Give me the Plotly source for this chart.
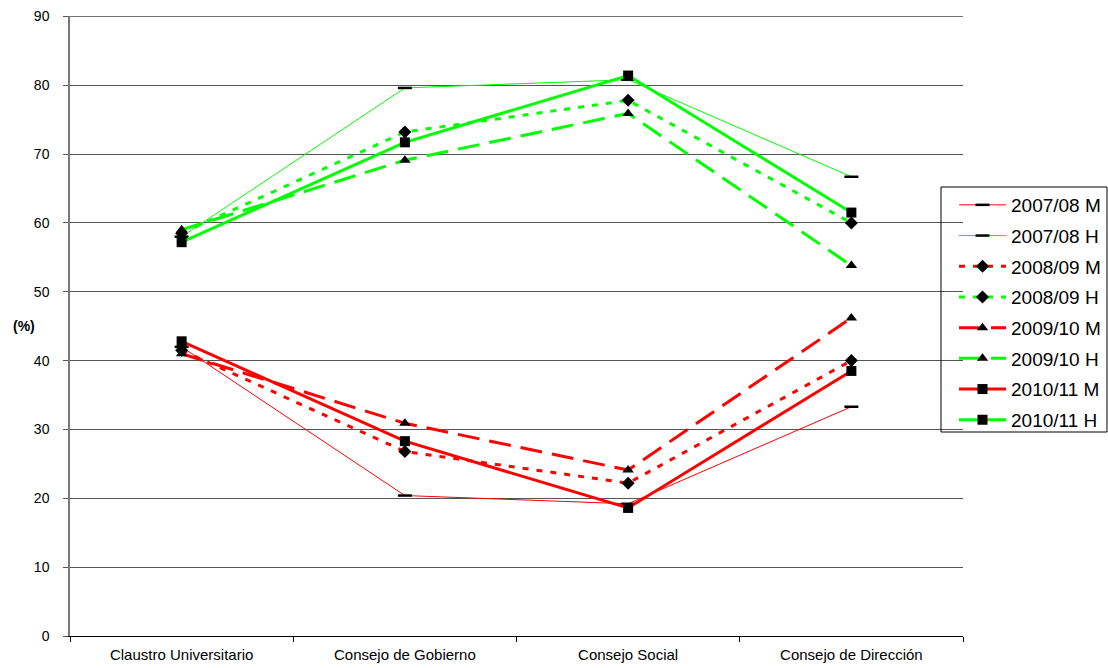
import plotly.graph_objects as go

categories = ["Claustro Universitario", "Consejo de Gobierno", "Consejo Social", "Consejo de Dirección"]

m_2007 = [42.0, 20.4, 19.2, 33.3]
h_2007 = [58.0, 79.6, 80.8, 66.7]
m_2008 = [41.5, 26.8, 22.2, 40.0]
h_2008 = [58.5, 73.2, 77.8, 60.0]
m_2009 = [41.0, 30.9, 24.1, 46.2]
h_2009 = [59.0, 69.1, 75.9, 53.8]
m_2010 = [42.8, 28.3, 18.6, 38.5]
h_2010 = [57.2, 71.7, 81.4, 61.5]

y_ticks = [0, 10, 20, 30, 40, 50, 60, 70, 80, 90]

series = [
    ("2007/08 M", m_2007, "#FF0000", 1, "solid", "line-ew"),
    ("2007/08 H", h_2007, "#00FF00", 1, "solid", "line-ew"),
    ("2008/09 M", m_2008, "#FF0000", 3, "6px,8px", "diamond"),
    ("2008/09 H", h_2008, "#00FF00", 3, "6px,8px", "diamond"),
    ("2009/10 M", m_2009, "#FF0000", 3, "22px,10px", "triangle-up"),
    ("2009/10 H", h_2009, "#00FF00", 3, "22px,10px", "triangle-up"),
    ("2010/11 M", m_2010, "#FF0000", 3, "solid", "square"),
    ("2010/11 H", h_2010, "#00FF00", 3, "solid", "square"),
]

x = list(range(len(categories)))
fig = go.Figure()
for name, vals, color, w, dash, sym in series:
    if sym == "line-ew":
        marker = dict(symbol=sym, size=10, color="black", line=dict(color="black", width=2.5))
    else:
        marker = dict(symbol=sym, size=10, color="black", line=dict(width=0))
    fig.add_trace(go.Scatter(
        x=x, y=vals, name=name, mode="lines+markers", legendgroup=name,
        line=dict(color=color, width=w, dash=dash),
        marker=marker,
    ))

# plot area in window px: x 70..963, y 16..636
def px_x(v):
    return (v - 70) / 893

def px_y(v):
    return (636 - v) / 620

fig.update_layout(
    width=1108, height=668,
    margin=dict(l=70, r=145, t=16, b=32, autoexpand=False),
    paper_bgcolor="white", plot_bgcolor="white",
    font=dict(family="Liberation Sans, Arial, sans-serif", size=13, color="black"),
    showlegend=True,
    legend=dict(
        x=px_x(954), y=px_y(186), xanchor="left", yanchor="top",
        borderwidth=0, bgcolor="rgba(0,0,0,0)",
        font=dict(size=19, color="black"), itemwidth=47,
        tracegroupgap=3,
    ),
    xaxis=dict(
        range=[-0.5, 3.5], tickmode="array", tickvals=x, ticktext=categories,
        showgrid=False, zeroline=False, showline=True, linecolor="black", linewidth=1,
        ticks="", tickfont=dict(size=15), automargin=False, ticklabelstandoff=5,
        minor=dict(ticks="outside", tickmode="linear", tick0=-0.5, dtick=1, ticklen=5, tickcolor="black", showgrid=False),
    ),
    yaxis=dict(
        range=[0, 90.05], tickmode="array", tickvals=y_ticks,
        showgrid=True, gridcolor="#555555", gridwidth=1,
        zeroline=False, showline=True, linecolor="#777777", linewidth=1.5,
        ticks="outside", ticklen=5, tickcolor="#555555", tickfont=dict(size=14),
        automargin=False, ticklabelstandoff=11,
    ),
    annotations=[dict(
        text="<b>(%)</b>", x=px_x(24), y=45, xref="paper", yref="y",
        xanchor="center", yanchor="middle", showarrow=False,
        font=dict(size=14, color="black"),
    )],
    shapes=[
        dict(type="line", xref="paper", yref="y", x0=0, x1=1, y0=y_ticks[-1], y1=y_ticks[-1],
             line=dict(color="#555555", width=1), layer="below"),
        dict(type="rect", xref="paper", yref="paper",
             x0=px_x(941), x1=px_x(1107), y0=px_y(432), y1=px_y(187),
             line=dict(color="black", width=1), fillcolor="rgba(0,0,0,0)", layer="above"),
    ],
)

fig.write_html(
    "out.html",
    config={"displayModeBar": False},
    post_script="document.body.style.margin='0';document.body.style.overflow='hidden';",
)
